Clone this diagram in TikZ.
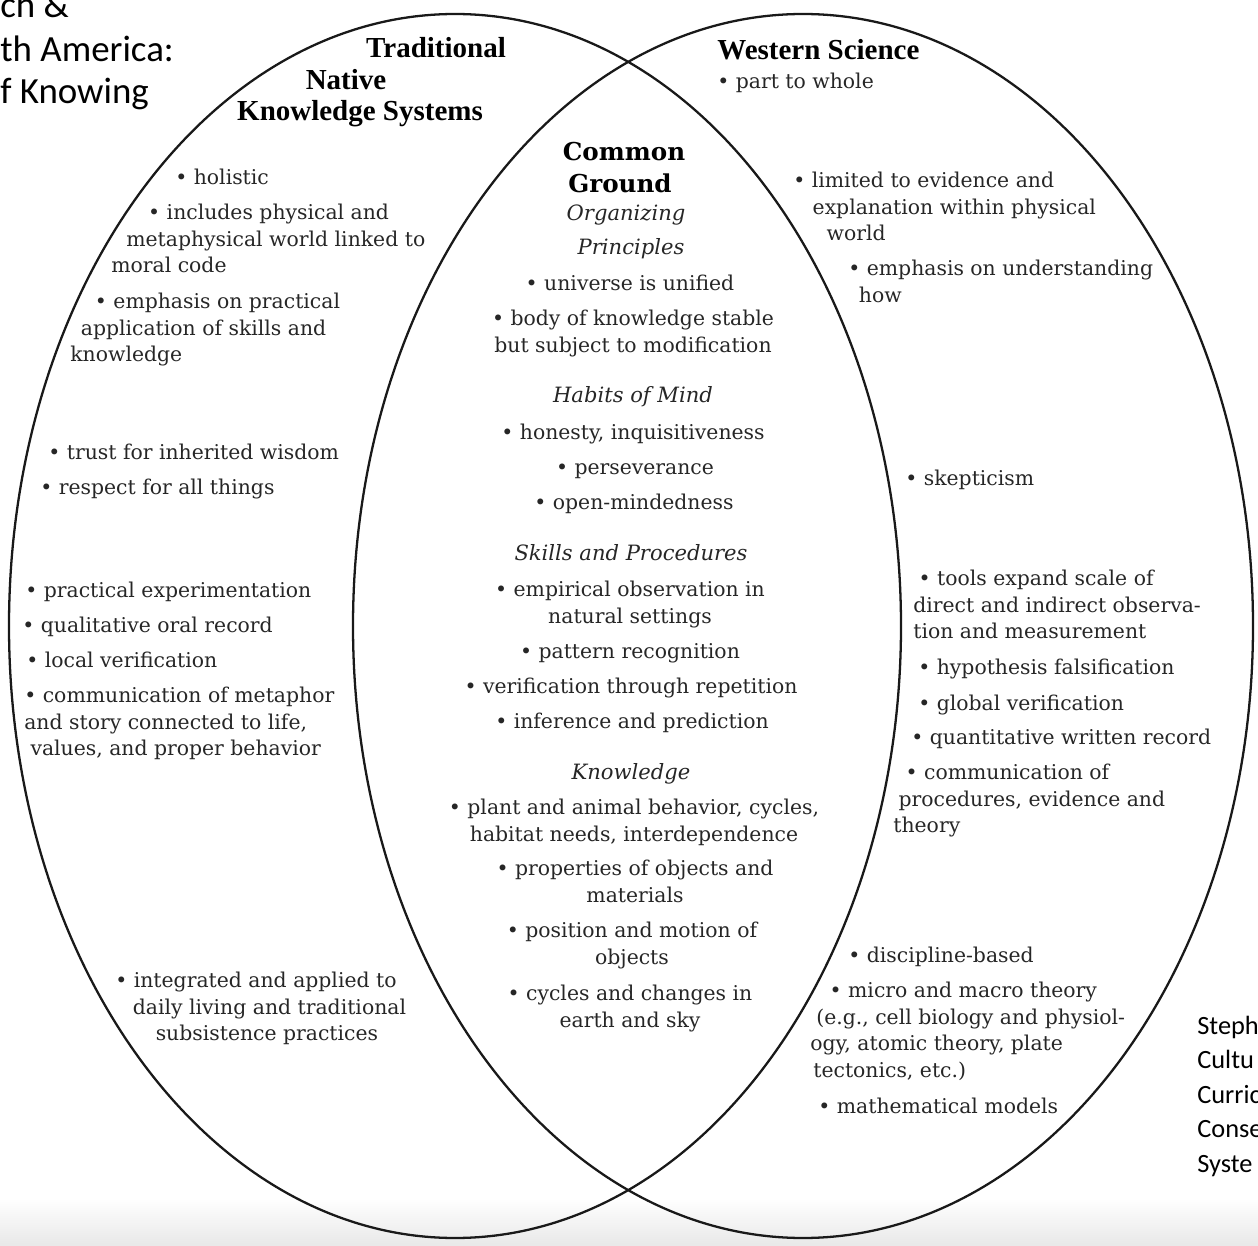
\documentclass[tikz,border=0pt]{standalone}
\usepackage{fontspec}
\setmainfont{DejaVu Serif}
\newfontfamily\headfont{Liberation Serif}
\newfontfamily\slidefont{Carlito}
\usepackage{tikz}
\usetikzlibrary{positioning}

\newcommand{\bul}{\textbullet\ }

\tikzset{
  txt/.style={font=\fontsize{11.6}{15.3}\selectfont, inner sep=0pt, text=black!85,
    execute at begin node={\vphantom{Ah}}},
  lft/.style={txt, align=left, anchor=north west, yshift=5.5pt},
  ctr/.style={txt, align=center, anchor=north, yshift=5.5pt},
  sub/.style={ctr, font=\fontsize{12}{15.3}\selectfont\itshape},
  head/.style={inner sep=0pt, font=\headfont\bfseries\fontsize{16.5}{18}\selectfont},
  cg/.style={inner sep=0pt, font=\bfseries\fontsize{14}{17}\selectfont},
  slide/.style={inner sep=0pt, anchor=base west, font=\slidefont\fontsize{21}{25}\selectfont},
  note/.style={inner sep=0pt, anchor=base west, font=\slidefont\fontsize{15}{19}\selectfont},
  ring/.style={line width=1.3pt, black!90}
}

\begin{document}
\begin{tikzpicture}[x=0.02cm, y=-0.02cm]
    \useasboundingbox (0,0) rectangle (1258,1246);
    % slide background
    \shade [top color=white, bottom color=black!9] (0,1198) rectangle (1258,1246);
    % the two circles
    \draw [ring] (455,626) ellipse [x radius=446, y radius=612];
    \draw [ring] (803,626) ellipse [x radius=450, y radius=612];

    % slide title (cut off)
    \node [slide] (sl1) at (0,18) {ch \&};
    \node [slide] (sl2) at (0,62) {th America:};
    \node [slide] (sl3) at (0,104) {f Knowing};

    % Native side
    \node [head] (trad) at (436,48) {Traditional};
    \node [head] (native) at (346,80) {Native};
    \node [head] (kns) at (360,114) {Knowledge Systems};
    \node [lft] (holistic) at (175,178) {\bul holistic};
    \node [lft] (includes) at (111,213) {\hspace*{21pt}\bul includes physical and\\ \hspace*{8.5pt}metaphysical world linked to\\ moral code};
    \node [lft] (practical) at (70,302) {\hspace*{14pt}\bul emphasis on practical\\ \hspace*{6pt}application of skills and\\ knowledge};
    \node [lft] (trust) at (48,453) {\bul trust for inherited wisdom};
    \node [lft] (respect) at (40,488) {\bul respect for all things};
    \node [lft] (experiment) at (25,591) {\bul practical experimentation};
    \node [lft] (oral) at (22,626) {\bul qualitative oral record};
    \node [lft] (local) at (26,661) {\bul local verification};
    \node [lft] (metaphor) at (24,696) {\bul communication of metaphor\\ and story connected to life,\\ \hspace*{3.5pt}values, and proper behavior};
    \node [lft] (integrated) at (115,981) {\bul integrated and applied to\\ \hspace*{10pt}daily living and traditional\\ \hspace*{23pt}subsistence practices};

    % Common Ground
    \node [cg] (common) at (624,152) {Common};
    \node [cg] (ground) at (620,183) {Ground};
    \node [sub] (organizing) at (626,214) {Organizing};
    \node [sub] (principles) at (631,248) {Principles};
    \node [ctr] (unified) at (630,284) {\bul universe is unified};
    \node [ctr] (body) at (633,319) {\bul body of knowledge stable\\ but subject to modification};
    \node [sub] (habits) at (633,396) {Habits of Mind};
    \node [ctr] (honesty) at (633,433) {\bul honesty, inquisitiveness};
    \node [ctr] (persev) at (635,468) {\bul perseverance};
    \node [ctr] (open) at (634,503) {\bul open-mindedness};
    \node [sub] (skills) at (631,554) {Skills and Procedures};
    \node [ctr] (empirical) at (630,590) {\bul empirical observation in\\ natural settings};
    \node [ctr] (pattern) at (630,652) {\bul pattern recognition};
    \node [ctr] (repetition) at (631,687) {\bul verification through repetition};
    \node [ctr] (inference) at (632,722) {\bul inference and prediction};
    \node [sub] (knowledge) at (631,773) {Knowledge};
    \node [ctr] (plant) at (634,808) {\bul plant and animal behavior, cycles,\\ habitat needs, interdependence};
    \node [ctr] (properties) at (635,869) {\bul properties of objects and\\ materials};
    \node [ctr] (position) at (632,931) {\bul position and motion of\\ objects};
    \node [ctr] (cycles) at (630,994) {\bul cycles and changes in\\ earth and sky};

    % Western Science side
    \node [head, anchor=west] (western) at (717,50) {Western Science};
    \node [lft] (whole) at (717,82) {\bul part to whole};
    \node [lft] (limited) at (793,181) {\bul limited to evidence and\\ \hspace*{11pt}explanation within physical\\ \hspace*{19pt}world};
    \node [lft] (how) at (848,269) {\bul emphasis on understanding\\ \hspace*{6pt}how};
    \node [lft] (skeptic) at (905,479) {\bul skepticism};
    \node [lft] (tools) at (913,579) {\hspace*{3pt}\bul tools expand scale of\\ direct and indirect observa-\\ tion and measurement};
    \node [lft] (falsify) at (918,668) {\bul hypothesis falsification};
    \node [lft] (global) at (918,704) {\bul global verification};
    \node [lft] (written) at (911,738) {\bul quantitative written record};
    \node [lft] (procedures) at (893,773) {\hspace*{7pt}\bul communication of\\ \hspace*{3pt}procedures, evidence and\\ theory};
    \node [lft] (discipline) at (848,956) {\bul discipline-based};
    \node [lft] (micro) at (810,991) {\hspace*{11pt}\bul micro and macro theory\\ \hspace*{3.4pt}(e.g., cell biology and physiol-\\ ogy, atomic theory, plate\\ \hspace*{1.7pt}tectonics, etc.)};
    \node [lft] (models) at (818,1107) {\bul mathematical models};

    % citation (cut off)
    \foreach \w [count=\i] in {Steph,Cultu,Curric,Conse,Syste}
        \node [note] (cite\i) at (1197,999.5+34.5*\i) {\w};
\end{tikzpicture}
\end{document}
